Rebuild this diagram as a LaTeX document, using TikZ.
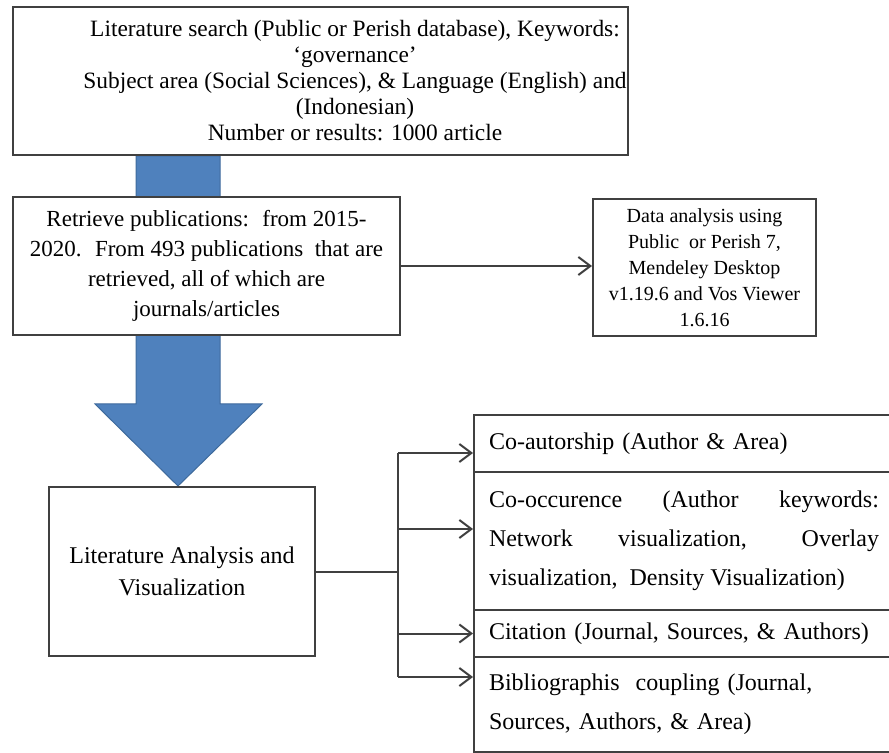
\documentclass[tikz,border=0pt]{standalone}
\usepackage{fontspec}
\setmainfont{Liberation Serif}
\usepackage{xcolor}
\usepackage{tikz}
\usetikzlibrary{arrows.meta,backgrounds}

\definecolor{boxline}{HTML}{404040}
\definecolor{arrowblue}{HTML}{4F81BD}
\definecolor{arrowedge}{HTML}{3E6A9C}

\tikzset{
    stepbox/.style={draw=boxline, line width=1pt, fill=white, align=center, inner sep=0pt},
    cellbox/.style={draw=boxline, line width=1pt, fill=white, anchor=west, inner xsep=7.5pt, inner ysep=0pt,
        text width=195pt, font=\fontsize{12}{19.5}\selectfont},
    link/.style={draw=boxline, line width=1pt},
    tip/.style={-{Straight Barb[length=6pt,width=9pt]}}
}

\begin{document}
\begin{tikzpicture}[x=0.5pt, y=-0.5pt]
        \clip (0,0) rectangle (889,753);
        \node[stepbox, minimum width=307.5pt, minimum height=74pt] (search) at (320.5,81) {};
        \node[align=center, font=\fontsize{11.7}{13}\selectfont] (searchtxt) at (355,80.5)
            {Literature search (Public or Perish database), Keywords:\\ `governance'\\
             Subject area (Social Sciences), \& Language (English) and\\ (Indonesian)\\
             Number or results: 1000 article};
        \node[stepbox, minimum width=193.5pt, minimum height=69pt, font=\fontsize{11.5}{15}\selectfont] (retr) at (206.5,266)
            {Retrieve publications:~ from 2015-\\ 2020.~ From 493 publications~ that are\\
             retrieved, all of which are\\ journals/articles};
        \node[stepbox, minimum width=111.5pt, minimum height=68.5pt, font=\fontsize{10}{13}\selectfont] (data) at (704.5,267.5)
            {Data analysis using\\ Public~ or Perish 7,\\ Mendeley Desktop\\ v1.19.6 and Vos Viewer\\ 1.6.16};
        \node[stepbox, minimum width=133pt, minimum height=84.5pt, font=\fontsize{12}{16}\selectfont] (lit) at (182,571.5)
            {Literature Analysis and\\ Visualization};
        \node[cellbox, align=left, minimum height=28.5pt] (coautor) at (473,443.5) {Co-autorship (Author \& Area)};
        \node[cellbox, align=justify, minimum height=69pt] (cooccur) at (473,541)
            {Co-occurence (Author keywords:\linebreak Network visualization, Overlay\linebreak visualization,~ Density Visualization)};
        \node[cellbox, align=left, minimum height=23.5pt] (citation) at (473,633.5) {Citation (Journal, Sources, \& Authors)};
        \node[cellbox, align=left, minimum height=47.5pt] (biblio) at (473,704.5)
            {Bibliographis~ coupling (Journal,\\ Sources, Authors, \& Area)};
        \begin{scope}[on background layer]
            \path[draw=arrowedge, fill=arrowblue, line width=0.5pt] (136,0 |- search.south) -- (220,0 |- search.south)
                -- (220,404) -- (262,404) -- (178,0 |- lit.north) -- (95,404) -- (136,404) -- cycle;
        \end{scope}
        \draw[link, tip] (retr.east) -- (retr.east -| data.west);
        \coordinate (split) at (398,574);
        \coordinate (t1) at ([yshift=-4.75pt]coautor.west);
        \coordinate (t2) at ([yshift=6pt]cooccur.west);
        \coordinate (t3) at (citation.west);
        \coordinate (t4) at ([yshift=13.75pt]biblio.west);
        \draw[link] (lit.east) -- (lit.east -| split);
        \draw[link] (split |- t1) -- (split |- t4);
        \foreach \t in {t1,t2,t3,t4}{
            \draw[link, tip] (split |- \t) -- (\t);
        }
    \end{tikzpicture}
\end{document}
